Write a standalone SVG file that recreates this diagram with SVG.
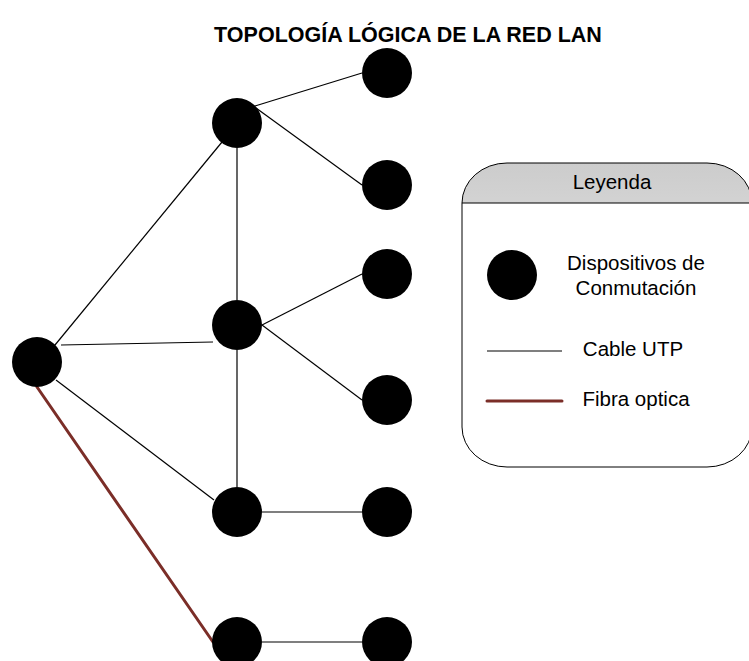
<svg xmlns="http://www.w3.org/2000/svg" width="749" height="661" viewBox="0 0 749 661">
<defs>
<linearGradient id="hdr" x1="0" y1="0" x2="0" y2="1">
<stop offset="0" stop-color="#cccccc"/>
<stop offset="1" stop-color="#ffffff"/>
</linearGradient>
<clipPath id="hclip"><rect x="462" y="163" width="290" height="40"/></clipPath>
</defs>
<style>
.n{fill:#000}
.u{stroke:#000;stroke-width:1.2;fill:none}
.f{stroke:#7b2e28;stroke-width:3;fill:none;stroke-linecap:round}
.t{font-family:"Liberation Sans",Arial,sans-serif;fill:#000}
.l{font-size:20.5px;text-anchor:middle}
</style>
<rect width="749" height="661" fill="#fff"/>
<text class="t" x="408" y="42" font-size="21.5" font-weight="bold" text-anchor="middle">TOPOLOGÍA LÓGICA DE LA RED LAN</text>
<g id="connectors">
<line class="u" x1="55" y1="345" x2="222" y2="142"/>
<line class="u" x1="61" y1="345" x2="213" y2="342"/>
<line class="u" x1="56" y1="380" x2="214" y2="500"/>
<line class="f" x1="37" y1="387" x2="213" y2="642"/>
<line class="u" x1="237" y1="148" x2="237" y2="300"/>
<line class="u" x1="237" y1="350" x2="237" y2="487"/>
<line class="u" x1="255" y1="106" x2="362" y2="73"/>
<line class="u" x1="256" y1="108" x2="362" y2="185"/>
<line class="u" x1="262" y1="325" x2="362" y2="274"/>
<line class="u" x1="262" y1="325" x2="362" y2="400"/>
<line class="u" x1="262" y1="512" x2="362" y2="512"/>
<line class="u" x1="262" y1="642" x2="362" y2="642"/>
</g>
<g id="n0"><circle class="n" cx="37" cy="362" r="25"/></g>
<g id="n1"><circle class="n" cx="237" cy="123" r="25"/></g>
<g id="n2"><circle class="n" cx="237" cy="325" r="25"/></g>
<g id="n3"><circle class="n" cx="237" cy="512" r="25"/></g>
<g id="n4"><circle class="n" cx="237" cy="642" r="25"/></g>
<g id="n5"><circle class="n" cx="387" cy="73" r="25"/></g>
<g id="n6"><circle class="n" cx="387" cy="185" r="25"/></g>
<g id="n7"><circle class="n" cx="387" cy="274" r="25"/></g>
<g id="n8"><circle class="n" cx="387" cy="400" r="25"/></g>
<g id="n9"><circle class="n" cx="387" cy="512" r="25"/></g>
<g id="n10"><circle class="n" cx="387" cy="642" r="25"/></g>
<g id="legend">
<rect x="462" y="163" width="290" height="304" rx="45" ry="40" fill="#fff"/>
<rect x="462" y="163" width="290" height="304" rx="45" ry="40" fill="url(#hdr)" clip-path="url(#hclip)"/>
<rect x="462" y="163" width="290" height="304" rx="45" ry="40" fill="none" stroke="#000" stroke-width="1"/>
<line x1="462" y1="203" x2="752" y2="203" stroke="#000" stroke-width="1"/>
<text class="t l" x="612" y="189">Leyenda</text>
<circle class="n" cx="512" cy="275" r="25"/>
<text class="t l" x="636" y="270">Dispositivos de</text>
<text class="t l" x="636" y="295">Conmutación</text>
<line class="u" x1="487" y1="351" x2="562" y2="351"/>
<text class="t l" x="633" y="356">Cable UTP</text>
<line class="f" x1="487" y1="401" x2="562" y2="401"/>
<text class="t l" x="636" y="406">Fibra optica</text>
</g>
</svg>
